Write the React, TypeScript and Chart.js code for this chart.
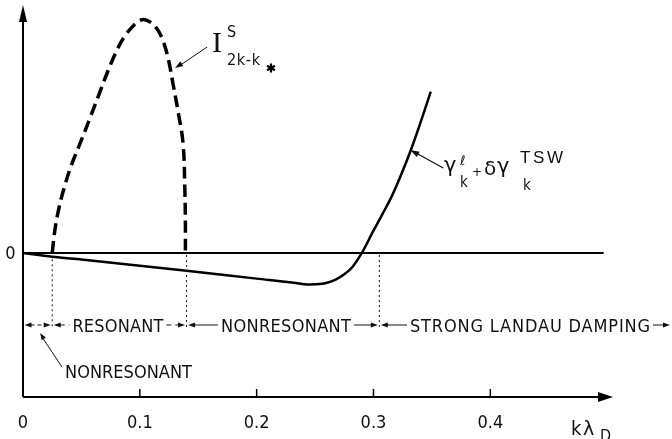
import { useEffect, useRef } from "react";
import { Chart, registerables } from "chart.js";

Chart.register(...registerables);

// growth rate curve  gamma_k^l + delta gamma_k^TSW  (x = k lambda_D)
const kGamma = [0, 0.025, 0.05, 0.1, 0.14, 0.2, 0.23, 0.238, 0.246, 0.254, 0.261, 0.268, 0.275, 0.282, 0.29, 0.3, 0.308, 0.316, 0.324, 0.332, 0.34, 0.349];
const gammaValues = [0, -0.026, -0.046, -0.088, -0.123, -0.178, -0.205, -0.214, -0.219, -0.216, -0.205, -0.183, -0.148, -0.097, 0, 0.155, 0.275, 0.4, 0.55, 0.715, 0.9, 1.12];

// dashed curve  I^S_{2k-k*}
const kIntensity = [0.025, 0.0275, 0.031, 0.0355, 0.041, 0.049, 0.057, 0.065, 0.073, 0.081, 0.087, 0.093, 0.098, 0.102, 0.106, 0.111, 0.116, 0.12, 0.124, 0.1285, 0.133, 0.137, 0.1385, 0.139, 0.139];
const intensityValues = [0, 0.17, 0.32, 0.46, 0.6, 0.764, 0.93, 1.1, 1.27, 1.42, 1.505, 1.565, 1.605, 1.62, 1.615, 1.59, 1.54, 1.47, 1.36, 1.17, 0.97, 0.76, 0.45, 0.2, 0];

const xTicks = [0, 0.1, 0.2, 0.3, 0.4];
const xTickLabels = ["0", "0.1", "0.2", "0.3", "0.4"];
const regionBounds = [0, 0.025, 0.14, 0.305];
const regionLabels = ["", "RESONANT", "NONRESONANT", "STRONG LANDAU DAMPING"];
const lowerLabel = "NONRESONANT";

const NARROW = '"Liberation Sans Narrow", "DejaVu Sans Condensed", "Liberation Sans", sans-serif';
const INK = "#111";

function arrowHead(ctx: CanvasRenderingContext2D, tx: number, ty: number, fx: number, fy: number, len: number, hw: number) {
  const a = Math.atan2(ty - fy, tx - fx);
  const bx = tx - Math.cos(a) * len, by = ty - Math.sin(a) * len;
  const nx = -Math.sin(a) * hw, ny = Math.cos(a) * hw;
  ctx.beginPath();
  ctx.moveTo(tx, ty);
  ctx.lineTo(bx + nx, by + ny);
  ctx.lineTo(bx - nx, by - ny);
  ctx.closePath();
  ctx.fill();
}

function fitText(ctx: CanvasRenderingContext2D, text: string, left: number, base: number, width: number, font: string) {
  ctx.font = font;
  (ctx as any).letterSpacing = "0px";
  const w = ctx.measureText(text).width;
  const n = text.length;
  const ls = n > 1 ? (width - w) / (n - 1) : 0;
  (ctx as any).letterSpacing = ls.toFixed(2) + "px";
  ctx.textAlign = "left";
  ctx.textBaseline = "alphabetic";
  ctx.fillText(text, left, base);
  (ctx as any).letterSpacing = "0px";
}

function line(ctx: CanvasRenderingContext2D, x1: number, y1: number, x2: number, y2: number) {
  ctx.beginPath();
  ctx.moveTo(x1, y1);
  ctx.lineTo(x2, y2);
  ctx.stroke();
}

const annotPlugin = {
  id: "annot",
  beforeDatasetsDraw(chart: any) {
    const ctx: CanvasRenderingContext2D = chart.ctx;
    const xs = chart.scales.x, ys = chart.scales.y;
    const X = (v: number) => xs.getPixelForValue(v);
    const Y = (v: number) => ys.getPixelForValue(v);
    const area = chart.chartArea;
    ctx.save();
    ctx.strokeStyle = "#000";
    ctx.fillStyle = "#000";
    // zero line
    ctx.lineWidth = 2;
    line(ctx, X(0), Y(0), X(0.497), Y(0));
    // axes
    ctx.lineWidth = 2;
    line(ctx, area.left, area.bottom, area.left, area.top + 10);
    arrowHead(ctx, area.left, area.top, area.left, area.bottom, 17, 4);
    line(ctx, area.left, area.bottom, area.right - 10, area.bottom);
    arrowHead(ctx, area.right, area.bottom, area.left, area.bottom, 15, 5);
    // ticks
    ctx.lineWidth = 1.5;
    xTicks.forEach((t) => {
      if (t > 0) line(ctx, X(t), area.bottom, X(t), area.bottom - 8);
    });
    ctx.restore();
  },
  afterDatasetsDraw(chart: any) {
    const ctx: CanvasRenderingContext2D = chart.ctx;
    const xs = chart.scales.x, ys = chart.scales.y;
    const X = (v: number) => xs.getPixelForValue(v);
    const Y = (v: number) => ys.getPixelForValue(v);
    const area = chart.chartArea;
    ctx.save();
    ctx.fillStyle = INK;
    ctx.strokeStyle = INK;

    // tick labels
    ctx.font = `18px ${NARROW}`;
    ctx.textAlign = "center";
    ctx.textBaseline = "alphabetic";
    xTicks.forEach((t, i) => {
      ctx.fillText(xTickLabels[i], X(t), area.bottom + 31);
    });
    ctx.fillText("0", 10.5, Y(0) + 6.5);

    // k lambda_D
    ctx.textAlign = "left";
    ctx.font = `20px ${NARROW}`;
    ctx.fillText("k", 571, area.bottom + 38);
    ctx.font = `19px "DejaVu Sans", sans-serif`;
    ctx.fillText("\u03bb", 583, area.bottom + 38);
    ctx.font = `16px ${NARROW}`;
    ctx.fillText("D", 600, area.bottom + 44);

    // dotted boundaries
    const rowY = Y(-0.5);
    ctx.lineWidth = 1;
    ctx.setLineDash([2, 3]);
    const dotTop = [0, -0.03, 0, 0];
    regionBounds.forEach((b, i) => {
      if (i === 0) return;
      line(ctx, X(b), Y(dotTop[i]) + 2, X(b), rowY + 2);
    });
    ctx.setLineDash([]);

    // region row
    const rowFont = `18px ${NARROW}`;
    const widths = [0, 91, 130, 240];
    const rowEnd = 670;
    for (let i = 0; i < regionBounds.length; i++) {
      const l = X(regionBounds[i]) + 1.5;
      const r = i + 1 < regionBounds.length ? X(regionBounds[i + 1]) - 1.5 : rowEnd;
      ctx.lineWidth = 1;
      arrowHead(ctx, l, rowY, r, rowY, 7, 2.5);
      arrowHead(ctx, r, rowY, l, rowY, 7, 2.5);
      if (i === 0) {
        ctx.setLineDash([4, 3]);
        line(ctx, l + 6, rowY, r - 6, rowY);
        ctx.setLineDash([]);
        continue;
      }
      const w = widths[i];
      const c = i === 3 ? 530 : (l + r) / 2 + (i === 2 ? 3 : -1.5);
      const tl = c - w / 2, tr = c + w / 2;
      if (i === 1) ctx.setLineDash([5, 4]);
      line(ctx, l + 6, rowY, tl - 3, rowY);
      line(ctx, tr + 3, rowY, r - 6, rowY);
      ctx.setLineDash([]);
      fitText(ctx, regionLabels[i], tl, rowY + 7, w, rowFont);
    }

    // lower NONRESONANT label with leader
    ctx.lineWidth = 1;
    const tipX = X(0.0146), tipY = Y(-0.556);
    line(ctx, tipX + 2, tipY + 4, 62, 367);
    arrowHead(ctx, tipX, tipY, 62, 367, 7, 2.5);
    fitText(ctx, lowerLabel, 65, 378, 127, rowFont);

    // I^S label
    ctx.lineWidth = 1;
    const iTail = { x: X(0.1576), y: Y(1.43) };
    const iTip = { x: X(0.1302), y: Y(1.285) };
    line(ctx, iTail.x, iTail.y, iTip.x + 4, iTip.y - 2);
    arrowHead(ctx, iTip.x, iTip.y, iTail.x, iTail.y, 8, 2.8);
    ctx.font = `30px "Liberation Serif", serif`;
    ctx.textAlign = "left";
    ctx.fillText("I", 212, 52);
    ctx.font = `16px ${NARROW}`;
    ctx.fillText("S", 227, 37);
    fitText(ctx, "2k-k", 227, 65, 33, `16px ${NARROW}`);
    // asterisk
    ctx.lineWidth = 2.2;
    ctx.strokeStyle = "#000";
    const ax = 271, ay = 68, ar = 4.5;
    for (let k = 0; k < 3; k++) {
      const a = Math.PI / 2 + (k * Math.PI) / 3;
      line(ctx, ax - Math.cos(a) * ar, ay - Math.sin(a) * ar, ax + Math.cos(a) * ar, ay + Math.sin(a) * ar);
    }

    // gamma label
    ctx.strokeStyle = INK;
    ctx.lineWidth = 1.2;
    const gTail = { x: X(0.3597), y: Y(0.59) };
    const gTip = { x: X(0.3315), y: Y(0.715) };
    line(ctx, gTail.x, gTail.y, gTip.x + 4, gTip.y + 2);
    arrowHead(ctx, gTip.x, gTip.y, gTail.x, gTail.y, 9, 3);
    ctx.font = `21px "DejaVu Sans", sans-serif`;
    ctx.fillText("\u03b3", 444, 172);
    ctx.font = `13px "DejaVu Sans", sans-serif`;
    ctx.fillText("\u2113", 460, 165);
    ctx.font = `15px ${NARROW}`;
    ctx.fillText("k", 460, 187);
    ctx.font = `12px "DejaVu Sans", sans-serif`;
    ctx.fillText("+", 472, 176);
    ctx.font = `20px "DejaVu Sans", sans-serif`;
    ctx.fillText("\u03b4", 484, 175);
    ctx.font = `21px "DejaVu Sans", sans-serif`;
    ctx.fillText("\u03b3", 497, 173);
    fitText(ctx, "TSW", 520, 163, 43, `17px "Liberation Sans", sans-serif`);
    ctx.font = `15px ${NARROW}`;
    ctx.fillText("k", 523, 190);

    ctx.restore();
  },
};

export default function App() {
  const ref = useRef<HTMLCanvasElement>(null);
  useEffect(() => {
    const chart = new Chart(ref.current as HTMLCanvasElement, {
      type: "line",
      data: {
        datasets: [
          {
            data: kIntensity.map((x, i) => ({ x, y: intensityValues[i] })),
            borderColor: "#000",
            borderWidth: 3.5,
            borderDash: [12, 6],
            pointRadius: 0,
            tension: 0.4,
            fill: false,
            clip: false,
          } as any,
          {
            data: kGamma.map((x, i) => ({ x, y: gammaValues[i] })),
            borderColor: "#000",
            borderWidth: 2.5,
            pointRadius: 0,
            cubicInterpolationMode: "monotone",
            fill: false,
            clip: false,
          } as any,
        ],
      },
      options: {
        responsive: false,
        animation: false,
        devicePixelRatio: 1,
        events: [],
        layout: { padding: { left: 23, right: 59, top: 5, bottom: 42 } },
        scales: {
          x: { type: "linear", min: 0, max: 0.505, display: false },
          y: { type: "linear", min: -1, max: 1.722, display: false },
        },
        plugins: { legend: { display: false }, tooltip: { enabled: false } },
      },
      plugins: [annotPlugin],
    });
    return () => chart.destroy();
  }, []);
  return (
    <div style={{ position: "fixed", left: 0, top: 0, width: 672, height: 439, background: "#fff" }}>
      <canvas ref={ref} width={672} height={439} style={{ display: "block", width: 672, height: 439 }} />
    </div>
  );
}
